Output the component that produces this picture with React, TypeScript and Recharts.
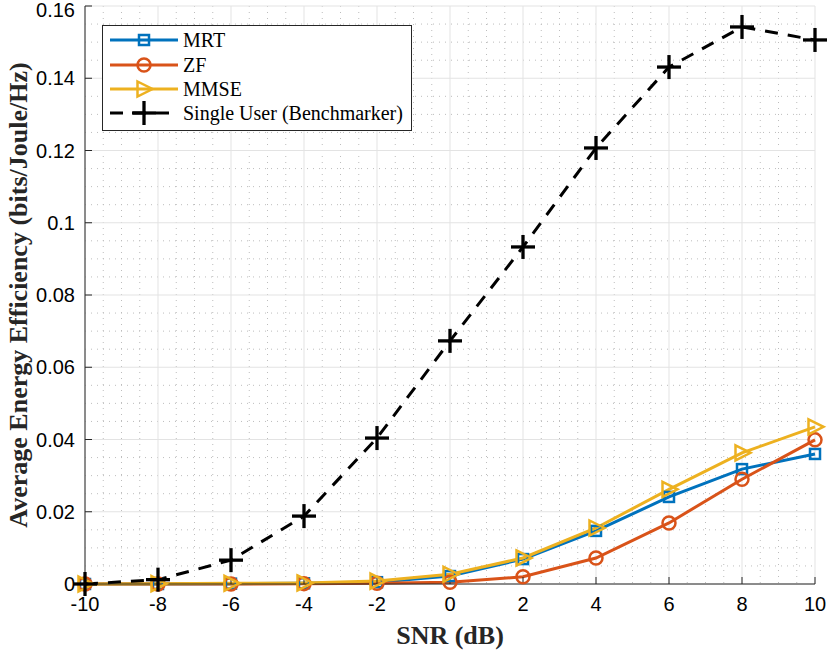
import React from 'react';
import {
  LineChart, Line, XAxis, YAxis, CartesianGrid,
} from 'recharts';

const snr = [-10, -8, -6, -4, -2, 0, 2, 4, 6, 8, 10];
const mrt = [0, 0, 0.0001, 0.0002, 0.0005, 0.0022, 0.0069, 0.0147, 0.0241, 0.0318, 0.036];
const zf = [0, 0, 0, 0.0001, 0.0002, 0.0005, 0.002, 0.0072, 0.0169, 0.029, 0.0399];
const mmse = [0, 0.0001, 0.0002, 0.0003, 0.0008, 0.0027, 0.0072, 0.0155, 0.0262, 0.0363, 0.0435];
const single = [0, 0.0012, 0.0066, 0.0188, 0.0404, 0.0673, 0.0933, 0.1207, 0.1431, 0.1542, 0.1506];

const xTicks = [-10, -8, -6, -4, -2, 0, 2, 4, 6, 8, 10];
const yTicks = [0, 0.02, 0.04, 0.06, 0.08, 0.1, 0.12, 0.14, 0.16];
const xMinor = [-9.5, -9, -8.5, -7.5, -7, -6.5, -5.5, -5, -4.5, -3.5, -3, -2.5, -1.5, -1, -0.5, 0.5, 1, 1.5, 2.5, 3, 3.5, 4.5, 5, 5.5, 6.5, 7, 7.5, 8.5, 9, 9.5];
const yMinor = [0.005, 0.01, 0.015, 0.025, 0.03, 0.035, 0.045, 0.05, 0.055, 0.065, 0.07, 0.075, 0.085, 0.09, 0.095, 0.105, 0.11, 0.115, 0.125, 0.13, 0.135, 0.145, 0.15, 0.155];

const seriesNames = ['MRT', 'ZF', 'MMSE', 'Single User (Benchmarker)'];
const colors = ['#0072BD', '#D95319', '#EDB120', '#000000'];

const data = snr.map((s, i) => ({ snr: s, mrt: mrt[i], zf: zf[i], mmse: mmse[i], single: single[i] }));

const SERIF = '"Liberation Serif", "Times New Roman", serif';
const SANS = '"Liberation Sans", Arial, Helvetica, sans-serif';

function Marker({ kind, cx, cy, color }: { kind: number; cx: number; cy: number; color: string }) {
  if (cx == null || cy == null) return null;
  if (kind === 0) {
    return <rect x={cx - 5} y={cy - 5} width={10} height={10} fill="none" stroke={color} strokeWidth={2.5} />;
  }
  if (kind === 1) {
    return <circle cx={cx} cy={cy} r={6.5} fill="none" stroke={color} strokeWidth={2.5} />;
  }
  if (kind === 2) {
    return <polygon points={`${cx - 6.5},${cy - 7.5} ${cx + 8.5},${cy} ${cx - 6.5},${cy + 7.5}`} fill="none" stroke={color} strokeWidth={2.5} strokeLinejoin="miter" />;
  }
  return (
    <g stroke={color} strokeWidth={3.3}>
      <line x1={cx - 12} y1={cy} x2={cx + 12} y2={cy} />
      <line x1={cx} y1={cy - 12} x2={cx} y2={cy + 12} />
    </g>
  );
}

const makeDot = (kind: number) => (props: any) => (
  <Marker key={`${kind}-${props.index}`} kind={kind} cx={props.cx} cy={props.cy} color={colors[kind]} />
);

function LegendBox() {
  const rowY = [15, 40, 64, 88];
  return (
    <svg width={310} height={106} style={{ display: 'block' }}>
      <rect x={0.5} y={0.5} width={309} height={105} fill="#fff" stroke="#262626" strokeWidth={1} />
      {seriesNames.map((n, i) => (
        <g key={n}>
          <line x1={8} x2={76} y1={rowY[i]} y2={rowY[i]} stroke={colors[i]} strokeWidth={3}
            strokeDasharray={i === 3 ? '13 10' : undefined} />
          <Marker kind={i} cx={42} cy={rowY[i]} color={colors[i]} />
          <text x={81} y={rowY[i]} dy="0.35em" fontFamily={SERIF} fontSize={20} fill="#000">{n}</text>
        </g>
      ))}
    </svg>
  );
}

const fmt = (v: number) => String(v);

function YTick(props: any) {
  const { x, y, payload } = props;
  const yy = Math.max(y, 10);
  return (
    <text x={x} y={yy} dy="0.355em" textAnchor="end" fontFamily={SANS} fontSize={20} fill="#000">
      {fmt(payload.value)}
    </text>
  );
}

export default function App() {
  return (
    <div style={{ position: 'absolute', left: 0, top: 0, width: 830, height: 655, background: '#fff' }}>
      <LineChart width={830} height={655} data={data} margin={{ top: 6, right: 15, bottom: 41, left: 10 }}>
        <CartesianGrid verticalValues={xMinor} horizontalValues={yMinor} stroke="#bdbdbd" strokeDasharray="1 5" />
        <CartesianGrid verticalValues={xTicks} horizontalValues={yTicks} stroke="#e3e3e3" strokeWidth={1} />
        <XAxis dataKey="snr" type="number" domain={[-10, 10]} ticks={xTicks} interval={0}
          height={30} tickSize={-7} tickMargin={20} stroke="#262626" tickFormatter={fmt}
          tick={{ fill: '#000', fontFamily: SANS, fontSize: 20 }}
          label={{ value: 'SNR (dB)', position: 'bottom', offset: 12, style: { fontFamily: SERIF, fontWeight: 'bold', fontSize: 26, fill: '#262626' } }} />
        <XAxis xAxisId="top" orientation="top" dataKey="snr" type="number" domain={[-10, 10]} ticks={xTicks}
          interval={0} height={0} tickSize={-7} stroke="#262626" tickFormatter={() => ''} />
        <YAxis type="number" domain={[0, 0.16]} ticks={yTicks} interval={0} width={75}
          tickSize={-7} tickMargin={17} stroke="#262626" tick={<YTick />}
          label={{ value: 'Average Energy Efficiency (bits/Joule/Hz)', angle: -90, position: 'insideLeft', offset: 8,
            style: { textAnchor: 'middle', fontFamily: SERIF, fontWeight: 'bold', fontSize: 26, fill: '#262626' } }} />
        <YAxis yAxisId="right" orientation="right" type="number" domain={[0, 0.16]} ticks={yTicks} interval={0}
          width={0} tickSize={-7} stroke="#262626" tickFormatter={() => ''} />
        <Line dataKey="mrt" stroke={colors[0]} strokeWidth={3} dot={makeDot(0)} isAnimationActive={false} />
        <Line dataKey="zf" stroke={colors[1]} strokeWidth={3} dot={makeDot(1)} isAnimationActive={false} />
        <Line dataKey="mmse" stroke={colors[2]} strokeWidth={3} dot={makeDot(2)} isAnimationActive={false} />
        <Line dataKey="single" stroke={colors[3]} strokeWidth={3} strokeDasharray="13 10" dot={makeDot(3)} isAnimationActive={false} />
      </LineChart>
      <div style={{ position: 'absolute', left: 102, top: 25 }}>
        <LegendBox />
      </div>
    </div>
  );
}
